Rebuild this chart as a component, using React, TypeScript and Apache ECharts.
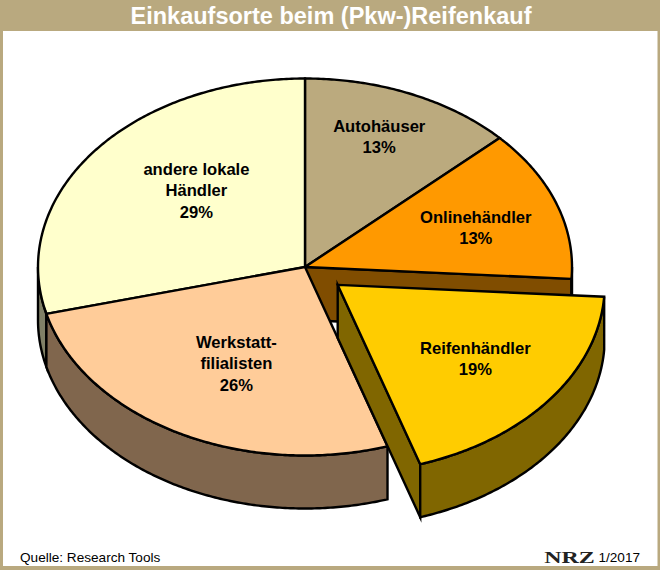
import React, { useEffect, useRef } from "react";
import * as echarts from "echarts";

const titleText = "Einkaufsorte beim (Pkw-)Reifenkauf";
const sourceText = "Quelle: Research Tools";
const dateText = "1/2017";
const logoText = "NRZ";
const categories = ["Autohäuser", "Onlinehändler", "Reifenhändler", "Werkstatt-\nfilialisten", "andere lokale\nHändler"];
const shares = [13, 13, 19, 26, 29];
const topColors = ["#BBAA7E", "#FF9900", "#FFCC00", "#FFCC99", "#FFFFCC"];
const sideColors = ["#5E553F", "#804D00", "#806600", "#80664D", "#808066"];
const exploded = [0, 0, 0.155, 0, 0];
const drawOrder = [0, 1, 4, 3, 2];

const frame = "#B9A97F";
const CX = 305, CY = 267, RX = 267, RY = 188.5, DEPTH = 53;
const labelFactors = [
  [0.70, 0.73], [0.64, 0.72], [0.60, 0.72], [0.58, 0.70], [0.60, 0.72],
];
const labelOffset: number[][] = [[0, -3.5], [10, 7], [11, -9], [6, -19], [18, 7]];

const total = shares.reduce((a, b) => a + b, 0);
const starts: number[] = [];
shares.reduce((acc, v, i) => { starts[i] = acc; return acc + v; }, 0);
const rad = (share: number) => (share / total) * Math.PI * 2;

function arc(cx: number, cy: number, a: number, b: number) {
  const pts: number[][] = [];
  const n = Math.max(2, Math.ceil((b - a) / 0.01));
  for (let i = 0; i <= n; i++) {
    const t = a + ((b - a) * i) / n;
    pts.push([cx + RX * Math.sin(t), cy - RY * Math.cos(t)]);
  }
  return pts;
}

function renderSlice(_: any, api: any) {
  const idx = api.value(1) as number;
  const value = api.value(0) as number;
  const a = rad(starts[idx]);
  const b = a + rad(value);
  const mid = (a + b) / 2;
  const ex = exploded[idx];
  const cx = CX + RX * ex * Math.sin(mid);
  const cy = CY - RY * ex * Math.cos(mid);
  const line = { stroke: "#000", lineWidth: 2.4, lineJoin: "miter", miterLimit: 6 };
  const side = { ...line, fill: sideColors[idx] };
  const children: any[] = [];

  // cut face at the slice's end angle, visible when it turns toward the viewer
  if (idx === 1 || idx === 2) {
    const e = [cx + RX * Math.sin(b), cy - RY * Math.cos(b)];
    children.push({
      type: "polygon",
      shape: { points: [[cx, cy], e, [e[0], e[1] + DEPTH], [cx, cy + DEPTH]] },
      style: side,
    });
  }
  // outer rim
  const lo = Math.max(a, Math.PI / 2);
  const hi = Math.min(b, Math.PI * 1.5);
  if (hi > lo) {
    const rim = arc(cx, cy, lo, hi);
    const lower = rim.map((p) => [p[0], p[1] + DEPTH]).reverse();
    children.push({ type: "polygon", shape: { points: [...rim, ...lower] }, style: side });
  }
  // top face
  children.push({
    type: "polygon",
    shape: { points: [[cx, cy], ...arc(cx, cy, a, b)] },
    style: { ...line, fill: topColors[idx] },
  });
  // label
  const [fx, fy] = labelFactors[idx];
  const [ox, oy] = labelOffset[idx];
  children.push({
    type: "text",
    style: {
      text: `${categories[idx]}\n${Math.round((value / total) * 100)}%`,
      x: cx + RX * fx * Math.sin(mid) + ox,
      y: cy - RY * fy * Math.cos(mid) + oy,
      align: "center",
      verticalAlign: "middle",
      fill: "#000",
      font: 'bold 16.6px "Liberation Sans", Arial, sans-serif',
      lineHeight: 21.5,
    },
  });
  return { type: "group", children };
}

export default function App() {
  const ref = useRef<HTMLDivElement>(null);
  useEffect(() => {
    document.body.style.margin = "0";
    const chart = echarts.init(ref.current!, null, { renderer: "svg", width: 660, height: 570 });
    chart.setOption({
      animation: false,
      backgroundColor: frame,
      graphic: [
        { type: "rect", z: 0, shape: { x: 3, y: 31, width: 654.5, height: 535 }, style: { fill: "#fff" } },
        {
          type: "text", z: 5, x: 331, y: 16,
          style: { text: titleText, align: "center", verticalAlign: "middle", fill: "#fff",
            font: 'bold 23.5px "Liberation Sans", Arial, sans-serif' },
        },
        {
          type: "text", z: 5, x: 20, y: 557,
          style: { text: sourceText, align: "left", verticalAlign: "middle", fill: "#000",
            font: '13.6px "Liberation Sans", Arial, sans-serif' },
        },
        {
          type: "text", z: 5, x: 640, y: 557,
          style: { text: dateText, align: "right", verticalAlign: "middle", fill: "#000",
            font: '13.6px "Liberation Sans", Arial, sans-serif' },
        },
        {
          type: "text", z: 5, x: 569.5, y: 557.5, scaleX: 1.45,
          style: { text: logoText, align: "center", verticalAlign: "middle", fill: "#222",
            font: 'bold 16.5px "Liberation Serif", serif' },
        },
      ],
      series: [
        {
          type: "custom",
          coordinateSystem: "none",
          silent: true,
          renderItem: renderSlice,
          data: drawOrder.map((i) => [shares[i], i]),
        },
      ],
    });
    return () => chart.dispose();
  }, []);
  return <div ref={ref} style={{ width: 660, height: 570 }} />;
}
